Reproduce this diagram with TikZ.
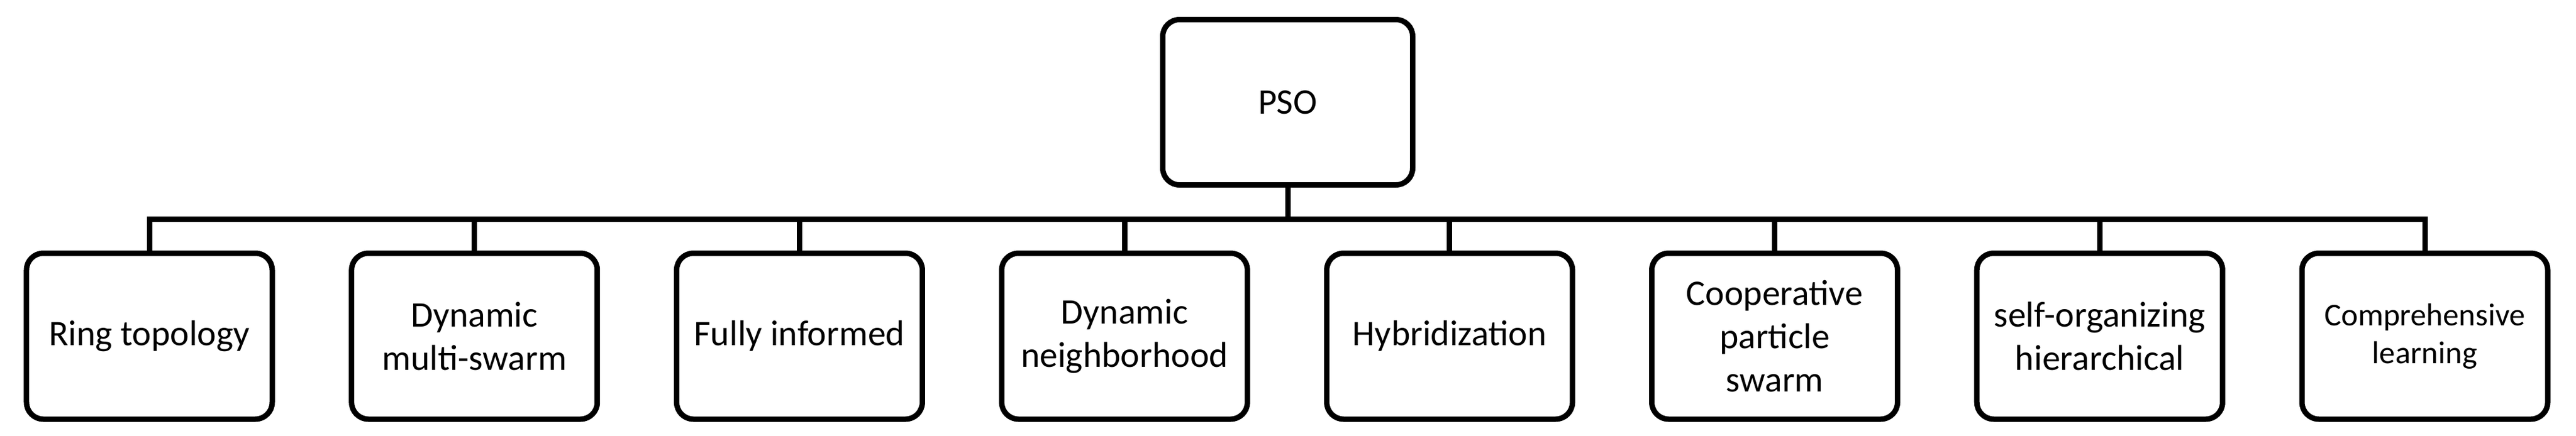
\documentclass[tikz,border=0pt]{standalone}
\usepackage{fontspec}
\setmainfont{Carlito}
\begin{document}
\begin{tikzpicture}[
  box/.style={draw=black, line width=0.09cm, rounded corners=0.28cm, fill=white,
    minimum width=4.08cm, minimum height=2.76cm, inner sep=0pt, align=center,
    font=\fontsize{17}{20.5}\selectfont},
  conn/.style={draw=black, line width=0.09cm},
]
\useasboundingbox (0,0) rectangle (42.77,-7.24);
\node[box, minimum width=4.15cm, minimum height=2.75cm] (pso) at (21.38,-1.70) {PSO};
\node[box] (c1) at (2.48,-5.59) {Ring topology};
\node[box] (c2) at (7.877,-5.59) {Dynamic\\multi-swarm};
\node[box] (c3) at (13.274,-5.59) {Fully informed};
\node[box] (c4) at (18.671,-5.59) {Dynamic\\neighborhood};
\node[box] (c5) at (24.068,-5.59) {Hybridization};
\node[box] (c6) at (29.465,-5.59) {Cooperative\\particle\\swarm};
\node[box] (c7) at (34.862,-5.59) {self-organizing\\hierarchical};
\node[box, font=\fontsize{15}{18}\selectfont] (c8) at (40.26,-5.59) {Comprehensive\\learning};
\coordinate (bar) at (0,-3.64);
\draw[conn] (c1.north) |- (c8.north |- bar) -- (c8.north);
\draw[conn] (pso.south) -- (pso.south |- bar);
\foreach \i in {2,...,7} {
  \draw[conn] (c\i.north) -- (c\i.north |- bar);
}
\end{tikzpicture}
\end{document}
